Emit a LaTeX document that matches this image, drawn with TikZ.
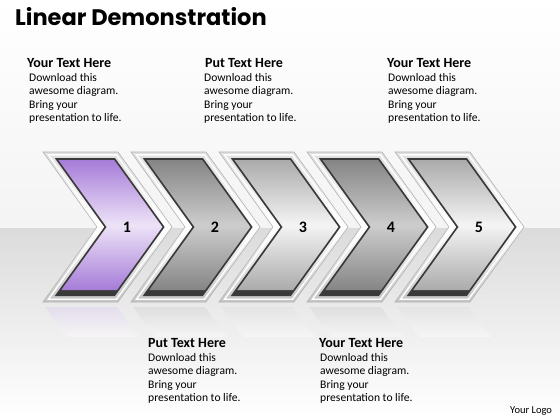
\documentclass[tikz,border=0pt]{standalone}
\usepackage{fontspec}
\setmainfont{Carlito}
\newfontfamily\titlefont{Poppins}
\usetikzlibrary{positioning}
\definecolor{chevline}{HTML}{3A3A3A}
\definecolor{purtop}{HTML}{A67CD8}
\definecolor{purmid}{HTML}{EDE3F7}
\definecolor{graydk}{HTML}{858585}
\definecolor{graydkmid}{HTML}{CDCDCD}
\definecolor{graylt}{HTML}{ABABAB}
\definecolor{grayltmid}{HTML}{F4F4F4}
\newcommand{\chev}[4]{({#1+1.232*#2+0.72*#3},{152+#3}) -- ({#1+75-1.232*#2+0.72*#3},{152+#3})
    -- ({#1+129-1.232*#2},227) -- ({#1+75-1.232*#2+0.72*#4},{302-#4})
    -- ({#1+1.232*#2+0.72*#4},{302-#4}) -- ({#1+54+1.232*#2},227) -- cycle}
\tikzset{
    head/.style={font=\bfseries\fontsize{14}{16}\selectfont, anchor=base west, inner sep=0pt},
    body/.style={font=\fontsize{11.6}{13.5}\selectfont, anchor=north west, align=left, inner sep=0pt},
    num/.style={font=\bfseries\fontsize{16}{18}\selectfont}
}
\begin{document}
\begin{tikzpicture}[x=1pt,y=-1pt]
    \useasboundingbox (0,0) rectangle (560,420);
    \shade[top color=white, bottom color=gray!9] (0,0) rectangle (560,228);
    \shade[top color=gray!28, bottom color=white] (0,228) rectangle (560,420);
    \node[font=\titlefont\bfseries\fontsize{22.5}{26}\selectfont, anchor=base west, inner sep=0pt] (title) at (15,26) {Linear Demonstration};
    \foreach \x/\ctop/\cmid/\n in {43/purtop/purmid/1, 131/graydk/graydkmid/2, 219/graylt/grayltmid/3,
      307/graydk/graydkmid/4, 395/graylt/grayltmid/5} {
        \shade[top color=\ctop!40, bottom color=white, opacity=0.4] (\x+2,307) -- (\x+74,307) -- (\x+96,337) -- (\x+24,337) -- cycle;
        \shade[top color=gray!25, bottom color=gray!45, middle color=white] \chev{\x}{0}{0}{0};
        \draw[gray!60, line width=0.6pt] \chev{\x}{0}{0}{0};
        \draw[white, line width=1.4pt] \chev{\x}{2.8}{2.8}{2.8};
        \fill[chevline] \chev{\x}{6}{6}{6};
        \shade[top color=\ctop, bottom color=\ctop, middle color=\cmid] \chev{\x}{7.8}{8}{12};
        \node[num] (n\n) at ({\x+84},227) {\n};
    }
    \node[head] (h1) at (27,67) {Your Text Here};
    \node[body, below right=6pt and 2pt of h1.base west] (t1) {Download this\\awesome diagram.\\Bring your\\presentation to life.};
    \node[head] (h2) at (205,67) {Put Text Here};
    \node[body, below right=6pt and -1pt of h2.base west] (t2) {Download this\\awesome diagram.\\Bring your\\presentation to life.};
    \node[head] (h3) at (387,67) {Your Text Here};
    \node[body, below right=6pt and 1pt of h3.base west] (t3) {Download this\\awesome diagram.\\Bring your\\presentation to life.};
    \node[head] (h4) at (148,347) {Put Text Here};
    \node[body, below right=6pt and 0pt of h4.base west] (t4) {Download this\\awesome diagram.\\Bring your\\presentation to life.};
    \node[head] (h5) at (319,347) {Your Text Here};
    \node[body, below right=6pt and 1pt of h5.base west] (t5) {Download this\\awesome diagram.\\Bring your\\presentation to life.};
    \node[font=\fontsize{10.5}{12}\selectfont, anchor=base west, inner sep=0pt] (logo) at (510,413) {Your Logo};
\end{tikzpicture}
\end{document}
